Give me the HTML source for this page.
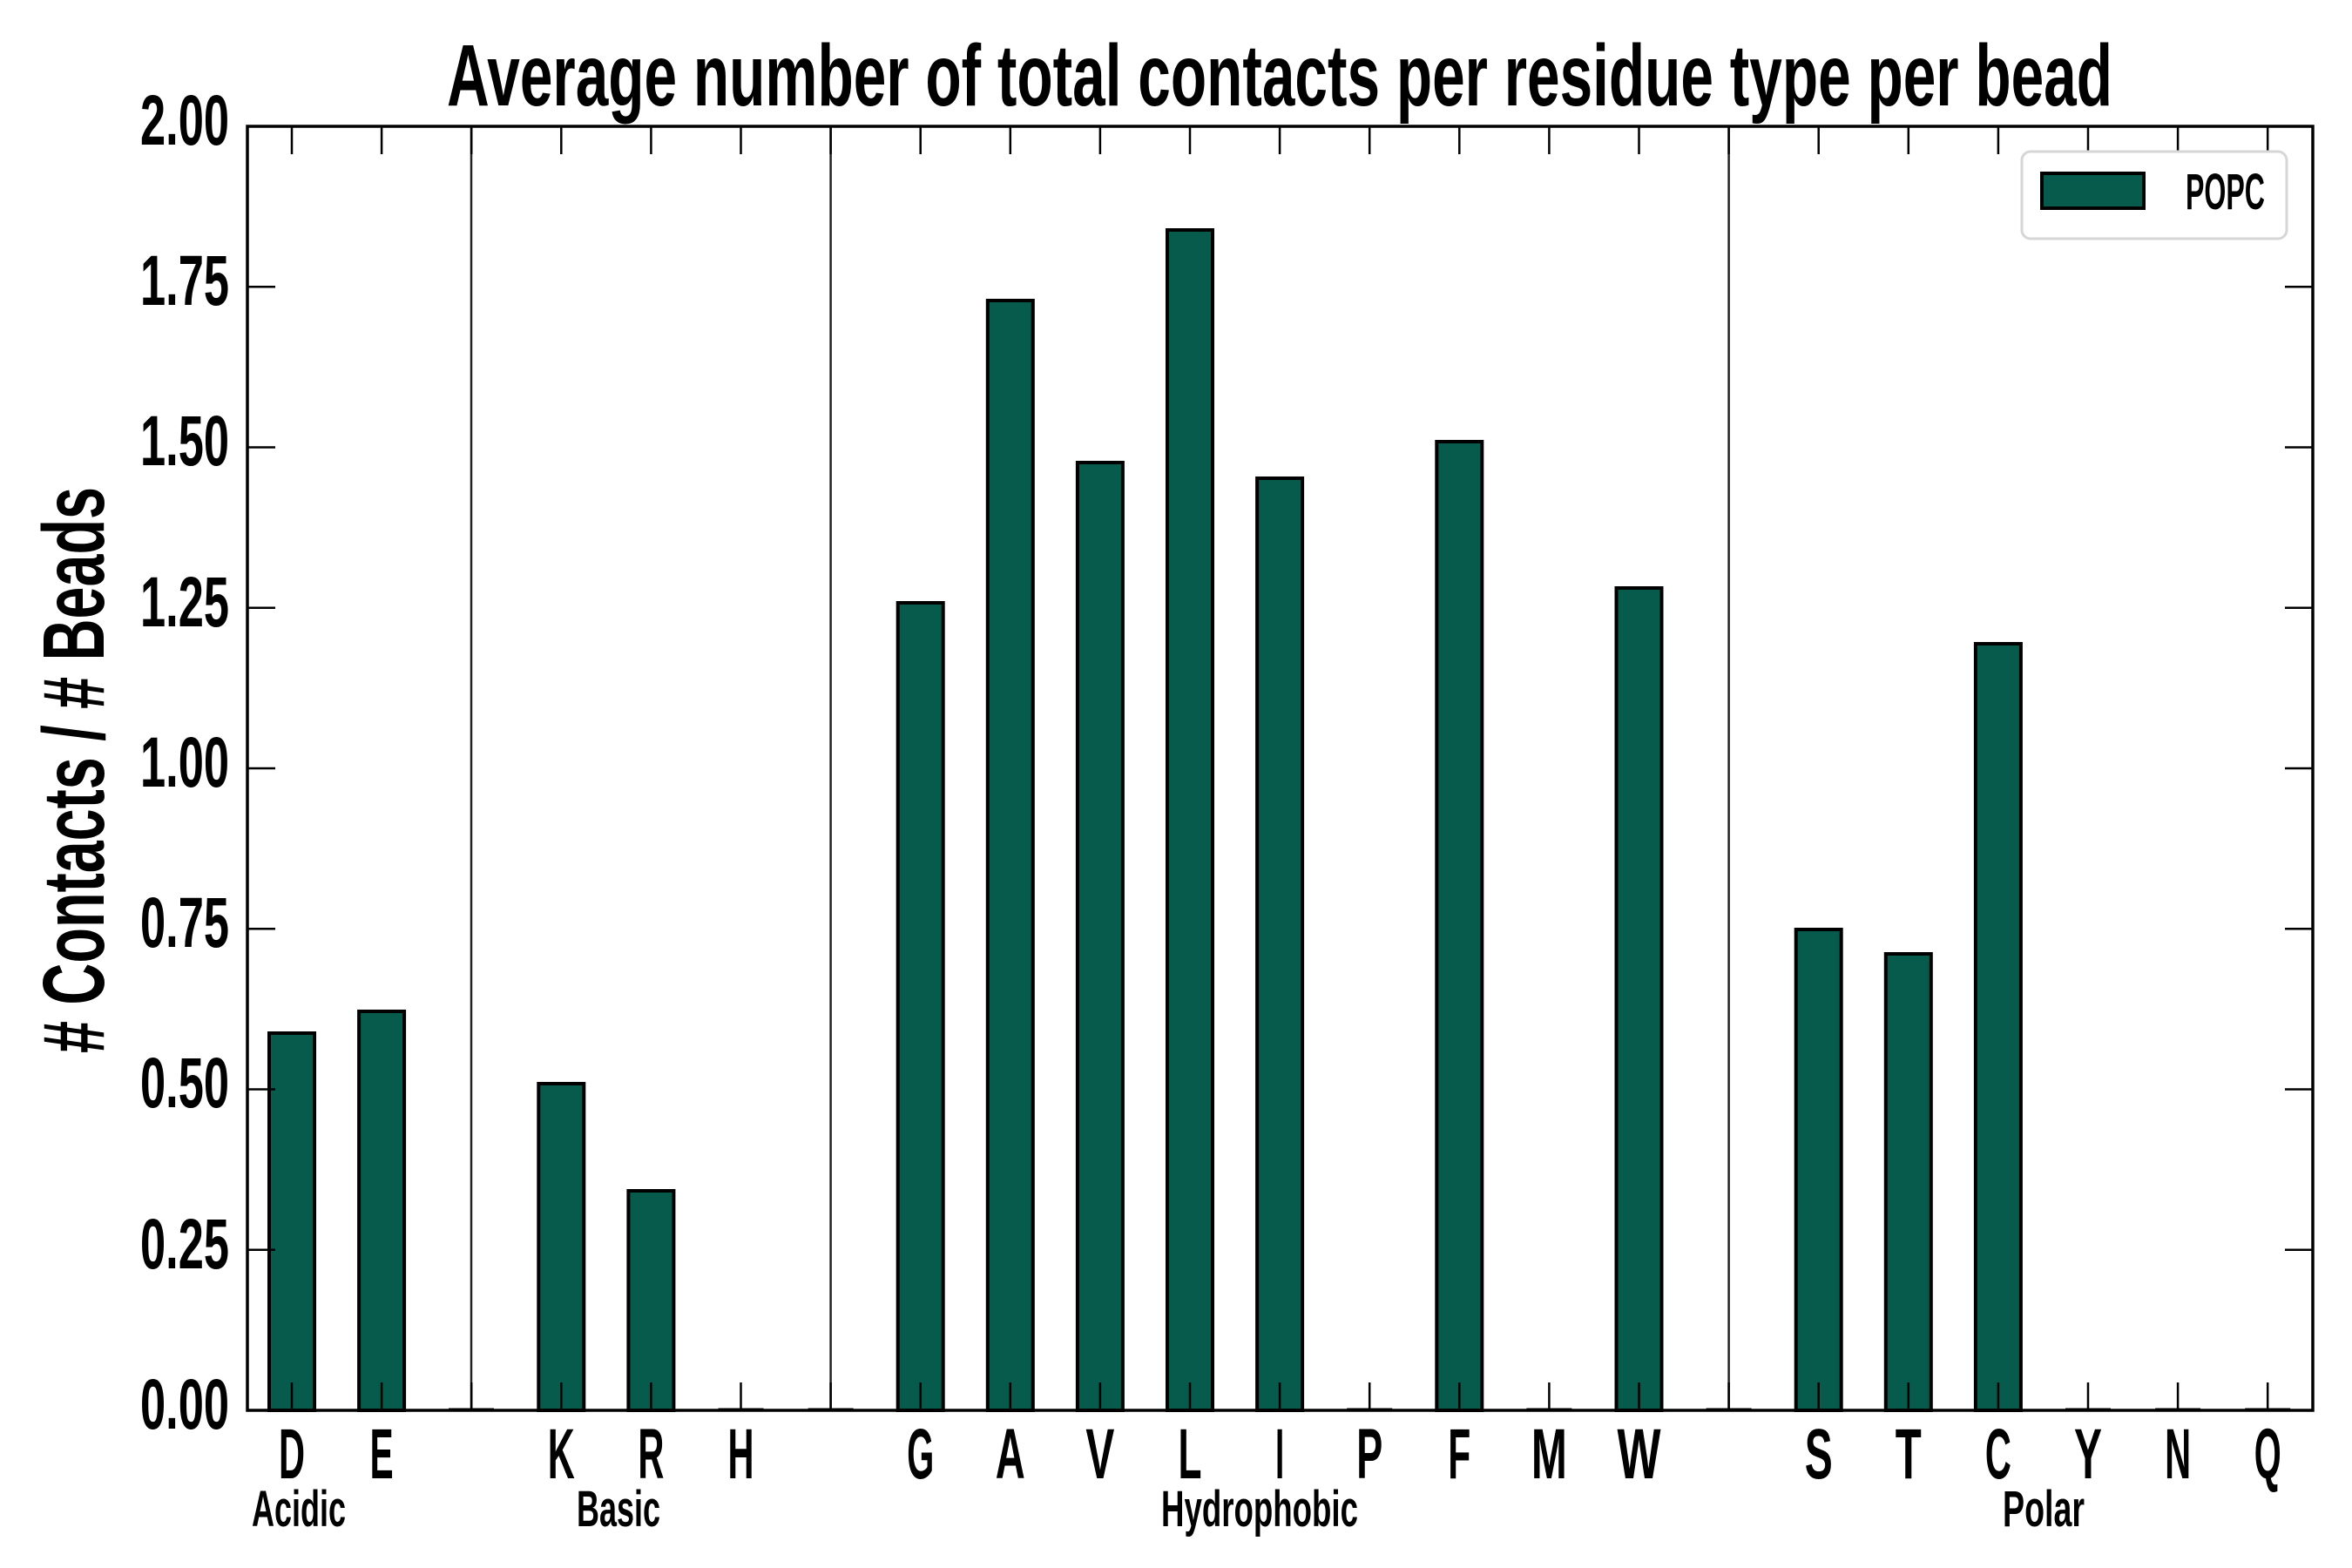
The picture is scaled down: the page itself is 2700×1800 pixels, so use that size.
<!DOCTYPE html>
<html><head><meta charset="utf-8"><style>
html,body{margin:0;padding:0;background:#fff;}
svg{display:block;}
text{font-family:"Liberation Sans Narrow","Liberation Sans",sans-serif;font-weight:bold;fill:#000;}
</style></head><body>
<svg width="2700" height="1800" viewBox="0 0 2700 1800" xmlns="http://www.w3.org/2000/svg">
<rect width="2700" height="1800" fill="#fff"/>
<text x="513" y="121" font-size="100" textLength="1912" lengthAdjust="spacingAndGlyphs">Average number of total contacts per residue type per bead</text>
<text transform="translate(119,884) rotate(-90)" text-anchor="middle" font-size="100" textLength="650" lengthAdjust="spacingAndGlyphs">#  Contacts / # Beads</text>
<g stroke="#222" stroke-width="2.5">
<line x1="541" y1="145" x2="541" y2="1619"/>
<line x1="953.6" y1="145" x2="953.6" y2="1619"/>
<line x1="1984.6" y1="145" x2="1984.6" y2="1619"/>
</g>
<g fill="#065b4d" stroke="#000" stroke-width="4">
<rect x="309" y="1186" width="52" height="433"/>
<rect x="412.1" y="1161" width="52" height="458"/>
<rect x="618.3" y="1244" width="52" height="375"/>
<rect x="721.4" y="1367" width="52" height="252"/>
<rect x="1030.7" y="692" width="52" height="927"/>
<rect x="1133.8" y="345" width="52" height="1274"/>
<rect x="1236.9" y="531" width="52" height="1088"/>
<rect x="1340" y="264" width="52" height="1355"/>
<rect x="1443.1" y="549" width="52" height="1070"/>
<rect x="1649.3" y="507" width="52" height="1112"/>
<rect x="1855.5" y="675" width="52" height="944"/>
<rect x="2061.7" y="1067" width="52" height="552"/>
<rect x="2164.8" y="1095" width="52" height="524"/>
<rect x="2267.9" y="739" width="52" height="880"/>
</g>
<g stroke="#000" stroke-width="3">
<line x1="515" y1="1618" x2="567" y2="1618"/>
<line x1="824.5" y1="1618" x2="876.5" y2="1618"/>
<line x1="927.6" y1="1618" x2="979.6" y2="1618"/>
<line x1="1546.2" y1="1618" x2="1598.2" y2="1618"/>
<line x1="1752.4" y1="1618" x2="1804.4" y2="1618"/>
<line x1="1958.6" y1="1618" x2="2010.6" y2="1618"/>
<line x1="2371" y1="1618" x2="2423" y2="1618"/>
<line x1="2474.1" y1="1618" x2="2526.1" y2="1618"/>
<line x1="2577.2" y1="1618" x2="2629.2" y2="1618"/>
</g>
<g stroke="#000" stroke-width="2.5" id="ticks">
<path d="M335 145v32M438.1 145v32M541.2 145v32M644.3 145v32M747.4 145v32M850.5 145v32M953.6 145v32M1056.7 145v32M1159.8 145v32M1262.9 145v32M1366 145v32M1469.1 145v32M1572.2 145v32M1675.3 145v32M1778.4 145v32M1881.5 145v32M1984.6 145v32M2087.7 145v32M2190.8 145v32M2293.9 145v32M2397 145v32M2500.1 145v32M2603.2 145v32"/>
<path d="M335 1619v-32M438.1 1619v-32M541.2 1619v-32M644.3 1619v-32M747.4 1619v-32M850.5 1619v-32M953.6 1619v-32M1056.7 1619v-32M1159.8 1619v-32M1262.9 1619v-32M1366 1619v-32M1469.1 1619v-32M1572.2 1619v-32M1675.3 1619v-32M1778.4 1619v-32M1881.5 1619v-32M1984.6 1619v-32M2087.7 1619v-32M2190.8 1619v-32M2293.9 1619v-32M2397 1619v-32M2500.1 1619v-32M2603.2 1619v-32"/>
<path d="M284 329.25h32M284 513.5h32M284 697.75h32M284 882h32M284 1066.25h32M284 1250.5h32M284 1434.75h32"/>
<path d="M2655 329.25h-32M2655 513.5h-32M2655 697.75h-32M2655 882h-32M2655 1066.25h-32M2655 1250.5h-32M2655 1434.75h-32"/>
</g>
<rect x="284" y="145" width="2371" height="1474" fill="none" stroke="#000" stroke-width="3.5"/>
<g font-size="82" text-anchor="end">
<text x="263" y="166" textLength="102" lengthAdjust="spacingAndGlyphs">2.00</text>
<text x="263" y="350" textLength="102" lengthAdjust="spacingAndGlyphs">1.75</text>
<text x="263" y="534" textLength="102" lengthAdjust="spacingAndGlyphs">1.50</text>
<text x="263" y="719" textLength="102" lengthAdjust="spacingAndGlyphs">1.25</text>
<text x="263" y="903" textLength="102" lengthAdjust="spacingAndGlyphs">1.00</text>
<text x="263" y="1087" textLength="102" lengthAdjust="spacingAndGlyphs">0.75</text>
<text x="263" y="1271" textLength="102" lengthAdjust="spacingAndGlyphs">0.50</text>
<text x="263" y="1456" textLength="102" lengthAdjust="spacingAndGlyphs">0.25</text>
<text x="263" y="1640" textLength="102" lengthAdjust="spacingAndGlyphs">0.00</text>
</g>
<g font-size="82" text-anchor="middle">
<text x="335" y="1697" textLength="30" lengthAdjust="spacingAndGlyphs">D</text>
<text x="438.1" y="1697" textLength="27" lengthAdjust="spacingAndGlyphs">E</text>
<text x="644.3" y="1697" textLength="31" lengthAdjust="spacingAndGlyphs">K</text>
<text x="747.4" y="1697" textLength="30" lengthAdjust="spacingAndGlyphs">R</text>
<text x="850.5" y="1697" textLength="30" lengthAdjust="spacingAndGlyphs">H</text>
<text x="1056.7" y="1697" textLength="31" lengthAdjust="spacingAndGlyphs">G</text>
<text x="1159.8" y="1697" textLength="34" lengthAdjust="spacingAndGlyphs">A</text>
<text x="1262.9" y="1697" textLength="33" lengthAdjust="spacingAndGlyphs">V</text>
<text x="1366" y="1697" textLength="27" lengthAdjust="spacingAndGlyphs">L</text>
<text x="1469.1" y="1697" textLength="10" lengthAdjust="spacingAndGlyphs">I</text>
<text x="1572.2" y="1697" textLength="30" lengthAdjust="spacingAndGlyphs">P</text>
<text x="1675.3" y="1697" textLength="26" lengthAdjust="spacingAndGlyphs">F</text>
<text x="1778.4" y="1697" textLength="41" lengthAdjust="spacingAndGlyphs">M</text>
<text x="1881.5" y="1697" textLength="50" lengthAdjust="spacingAndGlyphs">W</text>
<text x="2087.7" y="1697" textLength="32" lengthAdjust="spacingAndGlyphs">S</text>
<text x="2190.8" y="1697" textLength="30" lengthAdjust="spacingAndGlyphs">T</text>
<text x="2293.9" y="1697" textLength="30" lengthAdjust="spacingAndGlyphs">C</text>
<text x="2397" y="1697" textLength="32" lengthAdjust="spacingAndGlyphs">Y</text>
<text x="2500.1" y="1697" textLength="30" lengthAdjust="spacingAndGlyphs">N</text>
<text x="2603.2" y="1697" textLength="31" lengthAdjust="spacingAndGlyphs">Q</text>
</g>
<g font-size="58">
<text x="289" y="1752" textLength="108" lengthAdjust="spacingAndGlyphs">Acidic</text>
<text x="662" y="1752" textLength="96" lengthAdjust="spacingAndGlyphs">Basic</text>
<text x="1333" y="1752" textLength="226" lengthAdjust="spacingAndGlyphs">Hydrophobic</text>
<text x="2299" y="1752" textLength="94" lengthAdjust="spacingAndGlyphs">Polar</text>
</g>
<rect x="2321" y="174" width="304" height="100" rx="10" fill="#fff" stroke="#d6d6d6" stroke-width="3"/>
<rect x="2344" y="199" width="117" height="40" fill="#065b4d" stroke="#000" stroke-width="4"/>
<text x="2509" y="240" font-size="58" textLength="91" lengthAdjust="spacingAndGlyphs">POPC</text>
</svg>
</body></html>
